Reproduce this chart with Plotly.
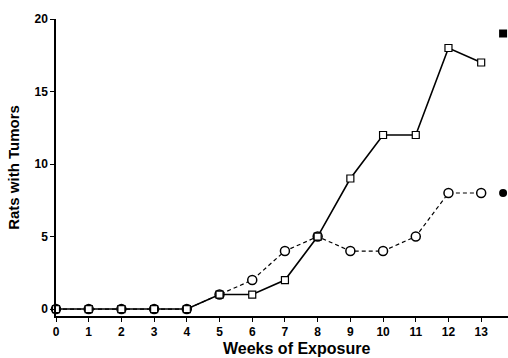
import plotly.graph_objects as go

weeks = [0, 1, 2, 3, 4, 5, 6, 7, 8, 9, 10, 11, 12, 13]
squares = [0, 0, 0, 0, 0, 1, 1, 2, 5, 9, 12, 12, 18, 17]
circles = [0, 0, 0, 0, 0, 1, 2, 4, 5, 4, 4, 5, 8, 8]
control_x = [13.67]
control_square = [19]
control_circle = [8]
x_ticks = list(range(0, 14))
y_ticks = [0, 5, 10, 15, 20]

fig = go.Figure()
fig.add_trace(go.Scatter(
    x=weeks, y=circles, mode="lines+markers", cliponaxis=False,
    line=dict(color="black", width=1.2, dash="4px,3px"),
    marker=dict(symbol="circle", size=9, color="white", line=dict(color="black", width=1.5)),
    showlegend=False))
fig.add_trace(go.Scatter(
    x=weeks, y=squares, mode="lines+markers", cliponaxis=False,
    line=dict(color="black", width=1.6),
    marker=dict(symbol="square", size=7, color="white", line=dict(color="black", width=1.2)),
    showlegend=False))
fig.add_trace(go.Scatter(
    x=control_x, y=control_square, mode="markers", cliponaxis=False,
    marker=dict(symbol="square", size=8, color="black"), showlegend=False))
fig.add_trace(go.Scatter(
    x=control_x, y=control_circle, mode="markers", cliponaxis=False,
    marker=dict(symbol="circle", size=8, color="black"), showlegend=False))

font_tick = dict(family="Liberation Sans, Arial, Helvetica", size=12, color="black")
fig.update_layout(
    width=508, height=358,
    margin=dict(l=56, r=0, t=19, b=42, autoexpand=False),
    paper_bgcolor="white", plot_bgcolor="white",
    font=dict(family="Liberation Sans, Arial, Helvetica", color="black"),
    xaxis=dict(range=[0, 13.82], tickvals=x_ticks, ticktext=[f"<b>{t}</b>" for t in x_ticks],
               showline=True, linecolor="black", linewidth=1.5, ticks="outside",
               ticklen=4, tickwidth=1.2, tickcolor="black", showgrid=False, zeroline=False,
               tickfont=font_tick),
    yaxis=dict(range=[-0.48, 20], tickvals=y_ticks, ticktext=[f"<b>{t}</b>" for t in y_ticks],
               showline=True, linecolor="black", linewidth=1.5, ticks="outside",
               ticklen=4, tickwidth=1.2, tickcolor="black", showgrid=False, zeroline=False,
               tickfont=font_tick,
               title=dict(text="<b>Rats with Tumors</b>", font=dict(size=15), standoff=11)),
    annotations=[dict(text="<b>Weeks of Exposure</b>", xref="paper", yref="paper",
                      x=0.531, y=0, yshift=-32, xanchor="center", yanchor="middle",
                      showarrow=False, font=dict(size=16, color="black"))],
)
fig.write_html("out.html", config={"displayModeBar": False},
               post_script="document.body.style.margin='0';document.body.style.overflow='hidden';")
